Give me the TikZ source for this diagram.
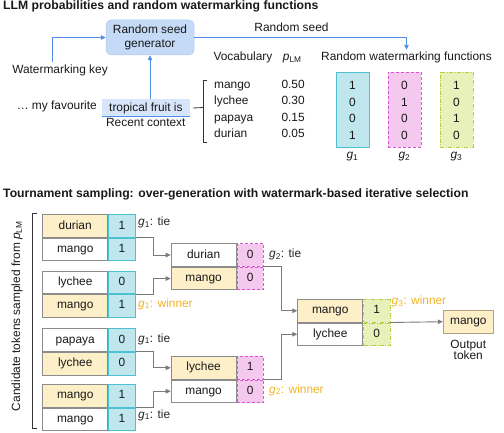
\documentclass[tikz,border=0pt]{standalone}
\usepackage{fontspec}
\setmainfont{Liberation Sans}
\usetikzlibrary{arrows.meta}
\definecolor{bline}{HTML}{4F8DE6}
\definecolor{rsgfill}{HTML}{C4DAF7}
\definecolor{ctxfill}{HTML}{D6E5F9}
\definecolor{yel}{HTML}{FDEFC8}
\definecolor{cyanf}{HTML}{C0E6EE}
\definecolor{cyanb}{HTML}{4CC1D0}
\definecolor{magf}{HTML}{F5C9EF}
\definecolor{magb}{HTML}{D957CD}
\definecolor{grnf}{HTML}{E7F1B9}
\definecolor{grnb}{HTML}{B3D23A}
\definecolor{cellgray}{HTML}{8C8C8C}
\definecolor{conngray}{HTML}{7A7A7A}
\definecolor{winc}{HTML}{F0B429}
\definecolor{outb}{HTML}{B0A27E}
\definecolor{dark}{HTML}{333333}
\begin{document}
\begin{tikzpicture}[x=1pt,y=-1pt,
  every node/.style={font=\fontsize{11.9}{14}\selectfont, inner sep=0pt, text=black!90},
  ttl/.style={font=\fontsize{12.2}{14}\selectfont\bfseries, anchor=mid west},
  txt/.style={anchor=mid},
  txtw/.style={anchor=mid west},
  barrow/.style={draw=bline, line width=0.9pt, -{Triangle[length=5pt,width=4.5pt]}},
  bl/.style={draw=bline, line width=0.9pt},
  brk/.style={draw=dark, line width=0.8pt},
  cell/.style={minimum height=22.7pt, text height=8.5pt, text depth=2.5pt, line width=0.8pt, anchor=north west},
  wc/.style={cell, draw=cellgray, fill=white, minimum width=65pt},
  yc/.style={cell, draw=cellgray, fill=yel, minimum width=65pt},
  nA/.style={cell, draw=cyanb, fill=cyanf, minimum width=26.7pt},
  nB/.style={cell, draw=magb, fill=magf, minimum width=26.5pt, dash pattern=on 3pt off 2pt},
  nC/.style={cell, draw=grnb, fill=grnf, minimum width=26.5pt, dash pattern=on 4pt off 1.5pt on 1pt off 1.5pt},
  gA/.style={draw=cyanb, fill=cyanf, line width=0.9pt, minimum width=33pt, minimum height=75pt},
  gB/.style={draw=magb, fill=magf, line width=0.9pt, minimum width=33pt, minimum height=75pt, dash pattern=on 3pt off 2pt},
  gC/.style={draw=grnb, fill=grnf, line width=0.9pt, minimum width=33pt, minimum height=75pt, dash pattern=on 4pt off 1.5pt on 1pt off 1.5pt},
  conn/.style={draw=conngray, line width=0.9pt, -{Triangle[length=5pt,width=4.5pt]}},
  lab/.style={anchor=mid west, text=black!85},
  win/.style={anchor=mid west, text=winc},
]
\useasboundingbox (0,0) rectangle (504,433);

% ---------- Top panel ----------
\node[ttl] (title1) at (3,7) {LLM probabilities and random watermarking functions};

\node[draw=rsgfill!80!bline, fill=rsgfill, line width=0.5pt, rounded corners=5pt,
      minimum width=88pt, minimum height=35pt, align=center] (rsg) at (150,37.5) {Random seed\\generator};

\node[txt] (wk) at (60,71) {Watermarking key};
\coordinate (wkt) at (52.3,62);
\draw[barrow] (wkt) |- (rsg.west);

\node[fill=ctxfill, minimum width=88.3pt, minimum height=17.4pt] (ctx) at (145.9,108) {tropical fruit is};
\draw[bl] (ctx.south west) -- (ctx.south east);
\node[anchor=mid east] (fav) at (97,107) {\dots\ my favourite};
\node[txt] (rc) at (145.8,123.5) {Recent context};
\draw[barrow] (rsg.south |- ctx.north) -- (rsg.south);

\coordinate (brkmid) at (203.3,107.5);
\draw[brk] ([xshift=3pt]ctx.east) -- (brkmid);
\draw[brk] (206.7,80) -- (203.3,80) -- (203.3,142.7) -- (206.7,142.7);

\node[txt] (rslab) at (291.5,29) {Random seed};
\node[txt] (rwf) at (406.5,58) {Random watermarking functions};
\draw[barrow, shorten >=2pt] (rsg.east) -| (rwf.north);

\node[txtw] (voc) at (213.3,58) {Vocabulary};
\node[txtw] (plm) at (282.7,58) {{\itshape p}\textsubscript{LM}};

\node[txtw] (v1) at (214,85.7) {mango};
\node[txtw] (v2) at (214,102) {lychee};
\node[txtw] (v3) at (214,118.5) {papaya};
\node[txtw] (v4) at (214,135) {durian};
\node[txtw] (p1) at (281.3,85.7) {0.50};
\node[txtw] (p2) at (281.3,102) {0.30};
\node[txtw] (p3) at (281.3,118.5) {0.15};
\node[txtw] (p4) at (281.3,135) {0.05};

\node[gA] (g1) at (352.5,109.5) {};
\node[gB] (g2) at (404.5,109.5) {};
\node[gC] (g3) at (456.5,109.5) {};
\foreach \c/\x/\a/\b/\d/\e in {1/352.5/1/0/0/1, 2/404.5/0/1/0/0, 3/456.5/1/0/1/0}{
  \node (g\c r1) at (\x,85.7) {\a};
  \node (g\c r2) at (\x,102) {\b};
  \node (g\c r3) at (\x,118.5) {\d};
  \node (g\c r4) at (\x,135) {\e};
  \node (g\c lab) at (\x,157) {{\itshape g}\textsubscript{\c}};
}

% ---------- Bottom panel ----------
\node[ttl] (title2) at (3,195) {Tournament sampling: over-generation with watermark-based iterative selection};

\draw[brk] (37.3,213.3) -- (32.3,213.3) -- (32.3,428.5) -- (37.3,428.5);
\node[rotate=90] (cand) at (17,316) {Candidate tokens sampled from {\itshape p}\textsubscript{LM}};

% Round 1
\node[yc] (aw1) at (42.3,214.3) {durian};
\node[wc] (aw2) at (aw1.south west) {mango};
\node[nA] (an1) at (aw1.north east) {1};
\node[nA] (an2) at (aw2.north east) {1};

\node[wc] (bw1) at (42.3,270.7) {lychee};
\node[yc] (bw2) at (bw1.south west) {mango};
\node[nA] (bn1) at (bw1.north east) {0};
\node[nA] (bn2) at (bw2.north east) {1};

\node[wc] (cw1) at (42.3,328.3) {papaya};
\node[yc] (cw2) at (cw1.south west) {lychee};
\node[nA] (cn1) at (cw1.north east) {0};
\node[nA] (cn2) at (cw2.north east) {0};

\node[yc] (dw1) at (42.3,384) {mango};
\node[wc] (dw2) at (dw1.south west) {mango};
\node[nA] (dn1) at (dw1.north east) {1};
\node[nA] (dn2) at (dw2.north east) {1};

\node[lab] (la) at (138,223) {{\itshape g}\textsubscript{1}: tie};
\node[win] (lb) at (138,304.5) {{\itshape g}\textsubscript{1}: winner};
\node[lab] (lc) at (138,339.5) {{\itshape g}\textsubscript{1}: tie};
\node[lab] (ld) at (138,415.5) {{\itshape g}\textsubscript{1}: tie};

% Round 2
\node[wc] (ew1) at (170.7,243.3) {durian};
\node[yc] (ew2) at (ew1.south west) {mango};
\node[nB] (en1) at (ew1.north east) {0};
\node[nB] (en2) at (ew2.north east) {0};

\node[yc] (fw1) at (170.7,356) {lychee};
\node[wc] (fw2) at (fw1.south west) {mango};
\node[nB] (fn1) at (fw1.north east) {1};
\node[nB] (fn2) at (fw2.north east) {0};

\node[lab] (le) at (269,255) {{\itshape g}\textsubscript{2}: tie};
\node[win] (lf) at (269,390.5) {{\itshape g}\textsubscript{2}: winner};

% Round 3
\node[yc] (gw1) at (297.3,299) {mango};
\node[wc] (gw2) at (gw1.south west) {lychee};
\node[nC] (gn1) at (gw1.north east) {1};
\node[nC] (gn2) at (gw2.north east) {0};

\node[win] (lg) at (391.5,302) {{\itshape g}\textsubscript{3}: winner};

% Output
\node[draw=outb, fill=yel, line width=0.9pt, minimum width=50pt, minimum height=23.3pt,
      text height=8.5pt, text depth=2.5pt] (out) at (468.3,321.7) {mango};
\node[align=center, font=\fontsize{11.9}{11.8}\selectfont] (outlab) at (468.3,350) {Output\\token};

% Connectors
\draw[conn] (an1.south east) -- ++(18,0) |- (ew1.west);
\draw[conn] (bn1.south east) -- ++(18,0) |- (ew2.west);
\draw[conn] (cn1.south east) -- ++(18,0) |- (fw1.west);
\draw[conn] (dn1.south east) -- ++(18,0) |- (fw2.west);
\draw[conn] (en1.south east) -- ++(18,0) |- (gw1.west);
\draw[conn] (fn1.south east) -- ++(18,0) |- (gw2.west);
\draw[conn] (gn1.south east) -- (out.west);
\end{tikzpicture}
\end{document}
